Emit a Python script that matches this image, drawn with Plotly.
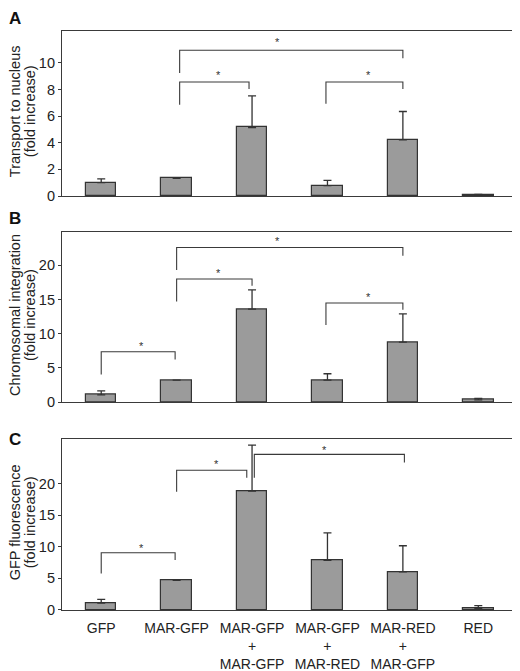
import plotly.graph_objects as go
from plotly.subplots import make_subplots

# groups on the x axis
groups = ["GFP", "MAR-GFP", "MAR-GFP<br>+<br>MAR-GFP", "MAR-GFP<br>+<br>MAR-RED",
          "MAR-RED<br>+<br>MAR-GFP", "RED"]

# panel A - transport to nucleus (mean, top of error bar)
transport = [1.0, 1.33, 5.15, 0.78, 4.22, 0.08]
transport_top = [1.29, 1.33, 7.53, 1.18, 6.35, 0.12]
ticks_a = [0, 2, 4, 6, 8, 10]

# panel B - chromosomal integration
integration = [1.05, 3.22, 13.6, 3.22, 8.78, 0.34]
integration_top = [1.66, 3.22, 16.4, 4.15, 12.9, 0.54]
ticks_b = [0, 5, 10, 15, 20]

# panel C - GFP fluorescence
fluorescence = [1.1, 4.68, 18.8, 7.84, 6.05, 0.26]
fluorescence_top = [1.68, 4.68, 26.05, 12.2, 10.16, 0.68]
ticks_c = [0, 5, 10, 15, 20]

# significance brackets: (x left, x right, bar height, left leg end, right leg end)
brackets_a = [(1.04, 4.0, 10.95, 9.25, 10.35), (1.04, 1.96, 8.57, 6.86, 8.04),
              (2.98, 4.0, 8.57, 6.93, 8.04)]
stars_a = [(2.34, 11.6), (1.55, 9.1), (3.55, 9.1)]

brackets_b = [(1.0, 4.0, 22.6, 19.3, 21.4), (1.0, 2.0, 18.0, 14.7, 17.0),
              (2.98, 4.0, 14.5, 11.27, 13.5), (0.0, 0.98, 7.37, 4.05, 6.24)]
stars_b = [(2.34, 23.5), (1.55, 18.9), (3.54, 15.4), (0.54, 8.24)]

brackets_c = [(0.0, 0.98, 9.05, 5.79, 7.9), (1.0, 1.93, 22.1, 18.7, 20.9),
              (2.03, 4.02, 24.6, 20.9, 23.3)]
stars_c = [(0.54, 9.84), (1.53, 23.0), (2.96, 25.3)]

titles = [("Transport to nucleus", "(fold increase)"),
          ("Chromosomal integration", "(fold increase)"),
          ("GFP fluorescence", "(fold increase)")]

panels = [
    (transport, transport_top, brackets_a, stars_a, 12.4, ticks_a),
    (integration, integration_top, brackets_b, stars_b, 24.8, ticks_b),
    (fluorescence, fluorescence_top, brackets_c, stars_c, 27.0, ticks_c),
]
domains = [[0.715, 1.0], [0.359, 0.652], [0.0, 0.295]]

FONT = "Arial, Liberation Sans, sans-serif"
LINE = "#3a3a3a"
TXT = "#222222"

fig = make_subplots(rows=3, cols=1)
xs = list(range(len(groups)))

for i, (vals, tops, brackets, stars, ymax, tv) in enumerate(panels, start=1):
    errs = [t - v for t, v in zip(tops, vals)]
    fig.add_trace(go.Bar(
        x=xs, y=vals, width=0.405,
        marker=dict(color="#9b9b9b", line=dict(color="#333333", width=1.2)),
        error_y=dict(type="data", symmetric=False, array=errs, arrayminus=[0] * len(errs),
                     color="#333333", thickness=1.3, width=4),
        showlegend=False, hoverinfo="skip"),
        row=i, col=1)

    bx, by = [], []
    for xl, xr, yh, yl, yr in brackets:
        bx += [xl, xl, xr, xr, None]
        by += [yl, yh, yh, yr, None]
    fig.add_trace(go.Scatter(x=bx, y=by, mode="lines", line=dict(color=LINE, width=1.1),
                             showlegend=False, hoverinfo="skip"), row=i, col=1)
    ref = "" if i == 1 else str(i)
    for sx, sy in stars:
        fig.add_annotation(x=sx, y=sy, xref="x" + ref, yref="y" + ref, text="*", showarrow=False,
                           font=dict(size=11, color="#333333", family=FONT))

    # y title as two rotated lines, placed by hand
    yc = (domains[i - 1][0] + domains[i - 1][1]) / 2 + 0.004
    for line_text, local_x in zip(titles[i - 1], [7, 22]):
        fig.add_annotation(text=line_text, textangle=-90, xref="paper", yref="paper",
                           x=(local_x - 54) / 454, y=yc, xanchor="center", yanchor="middle",
                           borderpad=0, showarrow=False,
                           font=dict(size=14.5, family=FONT, color=TXT))

    fig.update_yaxes(range=[0, ymax], tickvals=tv, ticks="outside", ticklen=3, domain=domains[i - 1],
                     tickcolor=LINE, showline=True, linecolor=LINE, linewidth=1.2, mirror=True,
                     showgrid=False, zeroline=False, automargin=False,
                     tickfont=dict(size=14.5, family=FONT, color=TXT), row=i, col=1)
    fig.update_xaxes(range=[-0.52, 5.5], showline=True, linecolor=LINE, linewidth=1.2, mirror=True,
                     showgrid=False, zeroline=False, ticks="outside", ticklen=5,
                     tickcolor="rgba(0,0,0,0)", automargin=False,
                     tickvals=xs, ticktext=groups, showticklabels=(i == 3),
                     tickfont=dict(size=14, family=FONT, color=TXT), row=i, col=1)

# page is drawn with an 8px body margin, so the figure is made 8px smaller
for letter, page_y in [("B", 219), ("C", 439)]:
    fig.add_annotation(text="<b>%s</b>" % letter, xref="paper", yref="paper",
                       x=-54 / 454, y=(610 - page_y) / 579, xanchor="left", yanchor="middle",
                       borderpad=0, showarrow=False, font=dict(size=17, family=FONT, color="#111111"))
fig.add_annotation(text="<b>A</b>", xref="paper", yref="paper", x=-54 / 454, y=602 / 579,
                   xanchor="left", yanchor="top", borderpad=0, showarrow=False,
                   font=dict(size=17, family=FONT, color="#111111"))

fig.update_layout(width=512, height=663, margin=dict(l=54, r=4, t=23, b=61),
                  plot_bgcolor="white", paper_bgcolor="white", bargap=0,
                  font=dict(family=FONT))

fig.write_html("out.html")
